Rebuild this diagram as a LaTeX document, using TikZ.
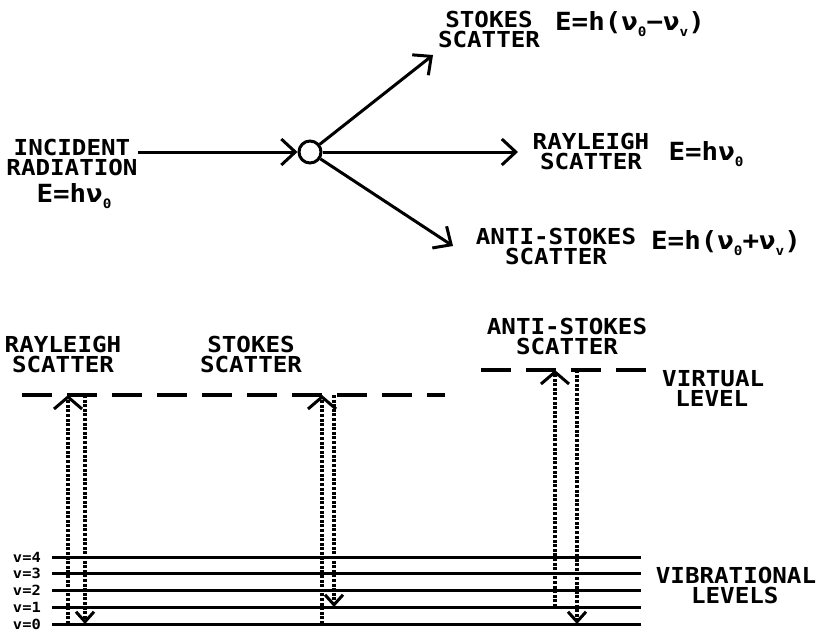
\documentclass[tikz,border=0pt]{standalone}
\usepackage{fontspec}
\newfontfamily\plotter[FakeStretch=1.1]{DejaVu Sans Mono}
\usetikzlibrary{arrows.meta}
\newcommand\lo[1]{\raisebox{-0.45ex}{\fontsize{13}{13}\selectfont#1}}

\begin{document}
\begin{tikzpicture}[
    x=1pt, y=-1pt,
    lbl/.style = {
      font=\plotter\bfseries\fontsize{22}{20}\selectfont,
      align=center, inner sep=0pt
    },
    form/.style = {
      font=\plotter\bfseries\fontsize{25}{25}\selectfont,
      inner sep=0pt
    },
    vlab/.style = {
      font=\plotter\bfseries\fontsize{14}{14}\selectfont,
      inner sep=0pt, anchor=east
    },
    arr/.style = {
      line width=3pt,
      -{Straight Barb[length=14pt,width=26pt,line width=3pt]}
    },
    level/.style = {line width=3pt},
    virtual/.style = {line width=3.2pt, dash pattern=on 30pt off 15pt},
    dotup/.style = {
      line width=3.2pt, dash pattern=on 3pt off 1.6pt,
      -{Straight Barb[length=12pt,width=28pt,line width=3pt]}
    },
    dotdown/.style = {
      line width=3.2pt, dash pattern=on 3pt off 1.6pt,
      -{Straight Barb[length=10pt,width=18pt,line width=3pt]}
    }
  ]
  \useasboundingbox (0,0) rectangle (818,633);

  % scattering at the molecule
  \node[circle, draw, line width=3pt, minimum size=22pt, inner sep=0pt] (sc) at (310,152) {};
  \node[lbl] (inc) at (72,157) {INCIDENT\\RADIATION};
  \node[form] (incE) at (74,196) {E=hν\lo0};
  \draw[arr] (inc.east |- sc) -- (sc.west);

  \coordinate (stk) at (433,55);
  \coordinate (ray) at (518,152);
  \coordinate (ast) at (453,246);
  \draw[arr] (sc) -- (stk);
  \draw[arr] (sc) -- (ray);
  \draw[arr] (sc) -- (ast);

  \node[lbl] (stkL) at (489,29) {STOKES\\SCATTER};
  \node[form] (stkE) at (630,24) {E=h(ν\lo0−ν\lo v)};
  \node[lbl] (rayL) at (591,151) {RAYLEIGH\\SCATTER};
  \node[form] (rayE) at (706,154) {E=hν\lo0};
  \node[lbl] (astL) at (556,246) {ANTI-STOKES\\SCATTER};
  \node[form] (astE) at (726,243) {E=h(ν\lo0+ν\lo v)};

  % energy levels
  \foreach \n/\y in {0/624,1/607,2/590,3/573,4/557} {
    \draw[level] (52,\y) coordinate (l\n w) -- (641,\y) coordinate (l\n e);
    \node[vlab] (v\n) at (41,\y) {v=\n};
  }
  \node[lbl, align=left] (vibL) at (736,585) {VIBRATIONAL\\\hspace{1.6em}LEVELS};

  \coordinate (vr1) at (22,395);
  \coordinate (vr2) at (445,395);
  \coordinate (va1) at (481,370);
  \coordinate (va2) at (654,370);
  \draw[virtual] (vr1) -- (vr2);
  \draw[virtual] (va1) -- (va2);
  \node[lbl, align=left, anchor=west] (virL) at (662,388) {VIRTUAL\\\hspace{0.6em}LEVEL};

  \node[lbl] (rayT) at (63,354) {RAYLEIGH\\SCATTER};
  \node[lbl] (stkT) at (251,354) {STOKES\\SCATTER};
  \node[lbl] (astT) at (567,336) {ANTI-STOKES\\SCATTER};

  \draw[dotup] (68,0 |- l0w) -- (68,0 |- vr1);
  \draw[dotdown] (85,0 |- vr1) -- (85,0 |- l0w);
  \draw[dotup] (322,0 |- l0w) -- (322,0 |- vr1);
  \draw[dotdown] (334,0 |- vr1) -- (334,0 |- l1w);
  \draw[dotup] (555,0 |- l1w) -- (555,0 |- va1);
  \draw[dotdown] (577,0 |- va1) -- (577,0 |- l0w);
\end{tikzpicture}
\end{document}
